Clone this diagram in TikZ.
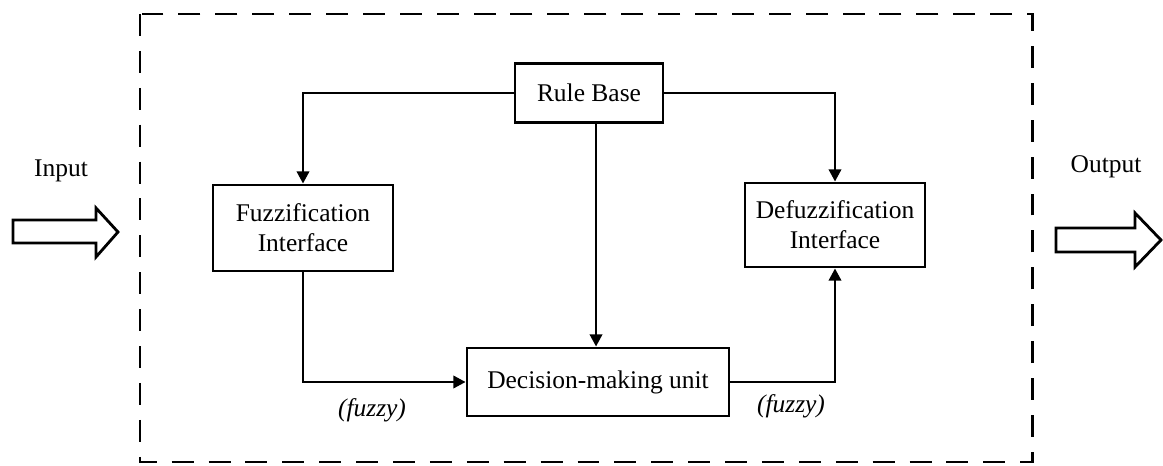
\documentclass[tikz,border=0pt]{standalone}
\usepackage{fontspec}
\setmainfont{Liberation Serif}
\usetikzlibrary{arrows.meta}

\begin{document}
\begin{tikzpicture}[x=0.02cm, y=-0.02cm,
		block/.style={draw, line width=1.6pt, fill=white, align=center, inner sep=1pt},
		link/.style={line width=1.6pt, -{Triangle[length=7pt, width=7pt]}},
		every node/.style={font=\fontsize{14.5}{17}\selectfont}]
	\useasboundingbox (0,0) rectangle (1163,466);

	% controller frame
	\draw[line width=1.7pt, dash pattern=on 12.5pt off 8.5pt] (140,14) rectangle (1032,462);

	\node[block, minimum width=2.96cm, minimum height=1.18cm] (rules) at (589,93) {Rule Base};
	\node[block, minimum width=3.6cm, minimum height=1.72cm] (fuzz) at (303,228) {Fuzzification\\Interface};
	\node[block, minimum width=3.6cm, minimum height=1.68cm] (defuzz) at (835,225) {Defuzzification\\Interface};
	\node[block, minimum width=5.24cm, minimum height=1.36cm] (decide) at (598,382) {Decision-making unit};

	\draw[link] (rules.west) -| (fuzz.north);
	\draw[link] (rules.east) -| (defuzz.north);
	\draw[link] ([xshift=4]rules.south) -- ([xshift=4]rules.south |- decide.north);
	\draw[link] (fuzz.south) |- (decide.west);
	\draw[link] (decide.east) -| (defuzz.south);

	\node (fz1) at (372,410) {\itshape (fuzzy)};
	\node (fz2) at (791,406) {\itshape (fuzzy)};

	% input and output arrows
	\node (in) at (61,171) {Input};
	\draw[line width=1.6pt] (13,220) -- (96,220) -- (96,208) -- (118,232) -- (96,257) -- (96,243) -- (13,243) -- cycle;
	\node (out) at (1106,167) {Output};
	\draw[line width=1.6pt] (1056,228) -- (1135,228) -- (1135,213) -- (1161,240) -- (1135,267) -- (1135,252) -- (1056,252) -- cycle;
\end{tikzpicture}
\end{document}
